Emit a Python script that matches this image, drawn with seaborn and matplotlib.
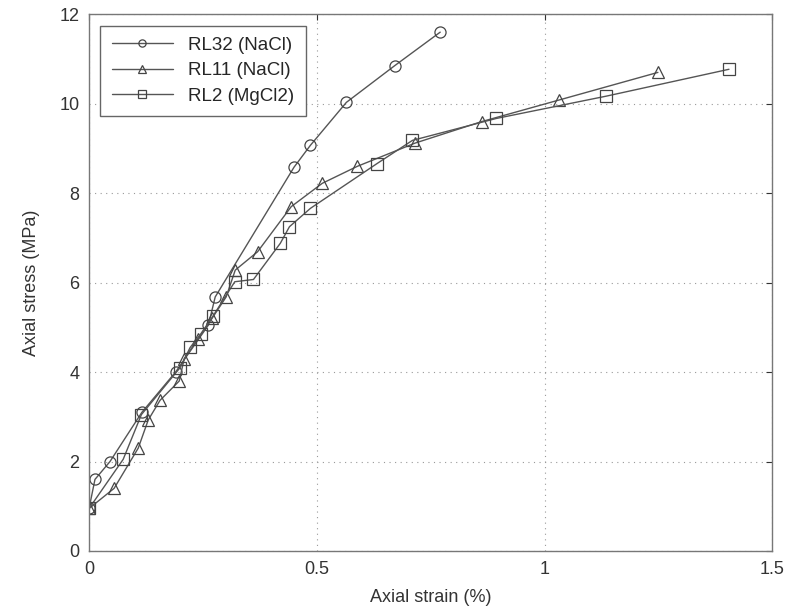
import matplotlib
matplotlib.use("Agg")
import matplotlib.pyplot as plt
import seaborn as sns
import pandas as pd

sns.set_style("white")
plt.rcParams['font.family'] = ['Liberation Sans', 'DejaVu Sans']

labels = ["RL32 (NaCl)", "RL11 (NaCl)", "RL2 (MgCl2)"]

rl32_x = [0.0, 0.013, 0.046, 0.116, 0.19, 0.262, 0.277, 0.45, 0.486, 0.565, 0.671, 0.771]
rl32_y = [0.95, 1.6, 2.0, 3.1, 4.0, 5.05, 5.68, 8.58, 9.07, 10.03, 10.85, 11.6]

rl11_x = [0.0, 0.055, 0.108, 0.13, 0.156, 0.198, 0.209, 0.24, 0.27, 0.301, 0.321, 0.37, 0.444, 0.512, 0.589, 0.716, 0.862, 1.031, 1.249]
rl11_y = [0.95, 1.4, 2.3, 2.93, 3.37, 3.8, 4.3, 4.75, 5.2, 5.68, 6.28, 6.69, 7.7, 8.22, 8.6, 9.12, 9.6, 10.08, 10.7]

rl2_x = [0.0, 0.075, 0.115, 0.2, 0.222, 0.245, 0.272, 0.32, 0.361, 0.42, 0.44, 0.486, 0.632, 0.71, 0.894, 1.136, 1.405]
rl2_y = [0.95, 2.05, 3.05, 4.1, 4.55, 4.85, 5.25, 6.02, 6.07, 6.88, 7.25, 7.66, 8.66, 9.18, 9.67, 10.17, 10.77]

series = [(rl32_x, rl32_y, "o"), (rl11_x, rl11_y, "^"), (rl2_x, rl2_y, "s")]

fig = plt.figure(figsize=(7.88, 6.12), dpi=100)
ax = fig.add_axes([0.113, 0.0997, 0.867, 0.877])

col = "#555555"
for lab, (xs, ys, m) in zip(labels, series):
    df = pd.DataFrame({"x": xs, "y": ys})
    sns.lineplot(data=df, x="x", y="y", sort=False, ax=ax, color=col, lw=1.0,
                 marker=m, markersize=8, markerfacecolor="none",
                 markeredgecolor="#444444", markeredgewidth=0.9, label=lab)

ax.set_xlim(0, 1.5)
ax.set_ylim(0, 12)
ax.set_xticks([0, 0.5, 1, 1.5])
ax.set_xticklabels(["0", "0.5", "1", "1.5"])
ax.set_yticks([0, 2, 4, 6, 8, 10, 12])
ax.grid(True, linestyle=(0, (1, 4)), color="#999999", lw=0.8)
ax.tick_params(direction="in", length=4, labelsize=13, pad=7, colors="#333333", top=True, right=True)
for s in ax.spines.values():
    s.set_color("#777777")
    s.set_linewidth(1.0)
ax.set_xlabel("Axial strain (%)", fontsize=13, color="#333333", labelpad=8)
ax.set_ylabel("Axial stress (MPa)", fontsize=13, color="#333333", labelpad=14)

leg = ax.legend(loc="upper left", fontsize=13.5, fancybox=False, edgecolor="#666666",
                framealpha=1, handlelength=3.3, borderaxespad=0.6, markerscale=0.65,
                labelspacing=0.45, borderpad=0.6)
leg.get_frame().set_linewidth(1.0)

fig.savefig("out.png", dpi=100)
